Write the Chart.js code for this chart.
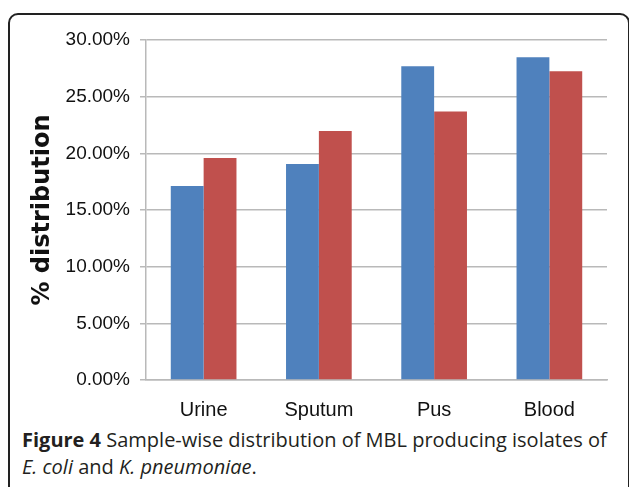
<!DOCTYPE html>
<html>
<head>
<meta charset="utf-8">
<script src="https://cdn.jsdelivr.net/npm/chart.js@4.4.1/dist/chart.umd.min.js"></script>
<style>
  html, body { margin: 0; padding: 0; background: #fff; }
  body { width: 629px; height: 487px; position: relative; overflow: hidden; }
  #frame {
    position: absolute; left: 8px; top: 13px; width: 618px; height: 480px;
    border: 2px solid #222; border-radius: 10px;
  }
  #chart { position: absolute; left: 0; top: 0; }
  #caption {
    position: absolute; left: 22px; top: 426px; width: 607px; white-space: nowrap;
    font-family: 'Open Sans', sans-serif; font-size: 20px; line-height: 27px; color: #231f20;
  }
</style>
</head>
<body>
<div id="frame"></div>
<canvas id="chart" width="629" height="425"></canvas>
<div id="caption"><b>Figure 4</b> Sample-wise distribution of MBL producing isolates of<br><i>E. coli</i> and <i>K. pneumoniae</i>.</div>
<script>
// sample types and % distribution per organism
const categories = ['Urine', 'Sputum', 'Pus', 'Blood'];
const eColi = [17.12, 19.05, 27.68, 28.47];
const kPneumoniae = [19.59, 21.96, 23.70, 27.25];
const yTicks = [0, 5, 10, 15, 20, 25, 30];

const gridGray = '#b9b9b9';
const labelFamily = "'Liberation Sans Narrow', 'Liberation Sans', Arial";

new Chart(document.getElementById('chart'), {
    type: 'bar',
    data: {
        labels: categories,
        datasets: [
            { label: 'E. coli', data: eColi, backgroundColor: '#4f81bd' },
            { label: 'K. pneumoniae', data: kPneumoniae, backgroundColor: '#c0504d' }
        ]
    },
    options: {
        responsive: false,
        animation: false,
        devicePixelRatio: 1,
        layout: { padding: { top: 40, right: 22, bottom: 0, left: 0 } },
        datasets: { bar: { categoryPercentage: 0.57, barPercentage: 1.0 } },
        plugins: { legend: { display: false }, tooltip: { enabled: false } },
        scales: {
            x: {
                grid: { display: false },
                border: { display: true, color: gridGray, width: 1.5 },
                ticks: { color: '#111', font: { family: labelFamily, size: 20 }, padding: 10 },
                afterFit: s => { s.height = 45; }
            },
            y: {
                min: 0,
                max: 30,
                afterBuildTicks: s => { s.ticks = yTicks.map(v => ({ value: v })); },
                grid: { color: gridGray, lineWidth: 1.5, tickLength: 6 },
                border: { display: true, color: gridGray, width: 1.5 },
                ticks: {
                    color: '#111', font: { family: labelFamily, size: 19 }, padding: 10,
                    callback: v => v.toFixed(2) + '%'
                },
                title: {
                    display: true,
                    text: '% distribution',
                    color: '#111',
                    font: { family: "'DejaVu Sans'", size: 24, weight: 'bold' },
                    padding: { top: 28, bottom: 0 }
                },
                afterFit: s => { s.width = 146; }
            }
        }
    }
});
</script>
</body>
</html>
